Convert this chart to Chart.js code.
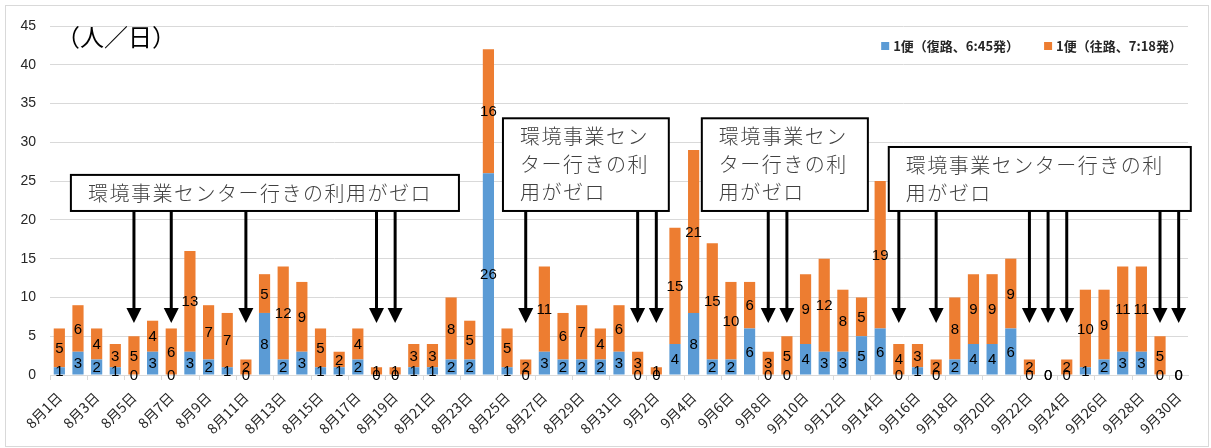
<!DOCTYPE html>
<html>
<head>
<meta charset="utf-8">
<script src="https://cdn.jsdelivr.net/npm/chart.js@4.4.1/dist/chart.umd.min.js"></script>
<style>
body { margin: 0; background: #fff; }
#wrap { position: relative; width: 1211px; height: 448px; }
#frame { position: absolute; left: 5px; top: 5px; width: 1204px; height: 442px; border: 1px solid #d9d9d9; box-sizing: border-box; }
canvas { position: absolute; left: 0; top: 0; }
</style>
</head>
<body>
<div id="wrap"><div id="frame"></div><canvas id="chart" width="1211" height="448"></canvas></div>
<script>
// categories
var days = [
  '8月1日','8月2日','8月3日','8月4日','8月5日','8月6日','8月7日','8月8日','8月9日','8月10日',
  '8月11日','8月12日','8月13日','8月14日','8月15日','8月16日','8月17日','8月18日','8月19日','8月20日',
  '8月21日','8月22日','8月23日','8月24日','8月25日','8月26日','8月27日','8月28日','8月29日','8月30日','8月31日',
  '9月1日','9月2日','9月3日','9月4日','9月5日','9月6日','9月7日','9月8日','9月9日','9月10日',
  '9月11日','9月12日','9月13日','9月14日','9月15日','9月16日','9月17日','9月18日','9月19日','9月20日',
  '9月21日','9月22日','9月23日','9月24日','9月25日','9月26日','9月27日','9月28日','9月29日','9月30日'
];

// 1便（復路、6:45発）
var fukuro = [1,3,2,1,0,3,0,3,2,1, 0,8,2,3,1,1,2,0,0,1, 1,2,2,26,1,0,3,2,2,2,3,
              0,0,4,8,2,2,6,0,0,4, 3,3,5,6,0,1,0,2,4,4, 6,0,0,0,1,2,3,3,0,0];
// 1便（往路、7:18発）
var oro = [5,6,4,3,5,4,6,13,7,7, 2,5,12,9,5,2,4,1,1,3, 3,8,5,16,5,2,11,6,7,4,6,
           3,1,15,21,15,10,6,3,5,9, 12,8,5,19,4,3,2,8,9,9, 9,2,0,2,10,9,11,11,5,0];

var seriesNames = ['1便（復路、6:45発）', '1便（往路、7:18発）'];
var seriesColors = ['#5B9BD5', '#ED7D31'];
var yTicks = [0, 45, 5];   // min, max, step
var unitText = '（人／日）';

// callouts: text lines + days they point at (box corners in axis units)
var notes = [
  { lines: ['環境事業センター行きの利用がゼロ'], x0: 0.62, x1: 21.42, y0: 25.8, y1: 21.15,
    days: ['8月5日','8月7日','8月11日','8月18日','8月19日'] },
  { lines: ['環境事業セン','ター行きの利','用がゼロ'], x0: 23.78, x1: 32.67, y0: 33.1, y1: 21.15,
    days: ['8月26日','9月1日','9月2日'] },
  { lines: ['環境事業セン','ター行きの利','用がゼロ'], x0: 34.44, x1: 43.34, y0: 33.1, y1: 21.15,
    days: ['9月8日','9月9日'] },
  { lines: ['環境事業センター行きの利','用がゼロ'], x0: 44.46, x1: 60.65, y0: 29.4, y1: 21.15,
    days: ['9月15日','9月17日','9月22日','9月23日','9月24日','9月29日','9月30日'] }
];
var arrowTip = 6.7, arrowHead = 8.64;

var JP = '"Noto Sans CJK JP", "Noto Sans", sans-serif';

var extras = {
  id: 'extras',
  afterDatasetsDraw: function(chart) {
    var ctx = chart.ctx, xs = chart.scales.x, ys = chart.scales.y, ca = chart.chartArea;
    ctx.save();

    // value labels in the middle of each segment
    ctx.fillStyle = '#000';
    ctx.font = '15px "Liberation Sans Narrow", "Liberation Sans", sans-serif';
    ctx.textAlign = 'center';
    ctx.textBaseline = 'middle';
    chart.data.datasets.forEach(function(ds, di) {
      chart.getDatasetMeta(di).data.forEach(function(bar, i) {
        ctx.fillText(String(ds.data[i]), bar.x, (bar.y + bar.base) / 2 + 1);
      });
    });

    // unit
    ctx.textAlign = 'left';
    ctx.font = '24px ' + JP;
    ctx.fillText(unitText, ca.left + 6, ca.top + 11);

    // legend, laid out from the right edge
    ctx.font = 'bold 13px ' + JP;
    var xr = ca.right - 6;
    for (var k = seriesNames.length - 1; k >= 0; k--) {
      var w = ctx.measureText(seriesNames[k]).width;
      var tx = xr - w;
      ctx.fillStyle = '#262626';
      ctx.fillText(seriesNames[k], tx, ca.top + 20);
      ctx.fillStyle = seriesColors[k];
      ctx.fillRect(tx - 12, ca.top + 16, 8, 8);
      xr = tx - 12 - 25;
    }

    // callout boxes and arrows
    notes.forEach(function(n) {
      var l = xs.getPixelForValue(n.x0), r = xs.getPixelForValue(n.x1);
      var t = ys.getPixelForValue(n.y0), b = ys.getPixelForValue(n.y1);
      ctx.fillStyle = '#fff';
      ctx.fillRect(l, t, r - l, b - t);
      ctx.lineWidth = 2;
      ctx.strokeStyle = '#000';
      ctx.strokeRect(l, t, r - l, b - t);

      ctx.fillStyle = '#404040';
      ctx.font = '300 20px ' + JP;
      ctx.letterSpacing = '1.5px';
      n.lines.forEach(function(s, k) {
        ctx.fillText(s, l + 17, t + 18 + k * 28);
      });
      ctx.letterSpacing = '0px';

      var yTip = ys.getPixelForValue(arrowTip), yHead = ys.getPixelForValue(arrowHead);
      n.days.forEach(function(d) {
        var x = xs.getPixelForValue(days.indexOf(d));
        ctx.lineWidth = 3;
        ctx.beginPath();
        ctx.moveTo(x, b);
        ctx.lineTo(x, yHead);
        ctx.stroke();
        ctx.fillStyle = '#000';
        ctx.beginPath();
        ctx.moveTo(x - 7.5, yHead);
        ctx.lineTo(x + 7.5, yHead);
        ctx.lineTo(x, yTip);
        ctx.closePath();
        ctx.fill();
      });
    });
    ctx.restore();
  }
};

new Chart(document.getElementById('chart'), {
  type: 'bar',
  data: {
    labels: days,
    datasets: [{
      label: seriesNames[0],
      data: fukuro,
      backgroundColor: seriesColors[0],
      barPercentage: 0.6,
      categoryPercentage: 1.0
    }, {
      label: seriesNames[1],
      data: oro,
      backgroundColor: seriesColors[1],
      barPercentage: 0.6,
      categoryPercentage: 1.0
    }]
  },
  options: {
    responsive: false,
    animation: false,
    layout: { padding: { left: 0, right: 23, top: 26, bottom: 0 } },
    plugins: {
      legend: { display: false },
      tooltip: { enabled: false }
    },
    scales: {
      x: {
        stacked: true,
        afterFit: function(s) { s.height = 73; },
        grid: {
          drawOnChartArea: false,
          tickLength: 5,
          color: function(c) { return c.index % 2 === 0 ? '#d9d9d9' : 'rgba(0,0,0,0)'; }
        },
        border: { color: '#d9d9d9' },
        ticks: {
          autoSkip: false,
          minRotation: 45,
          maxRotation: 45,
          padding: 9,
          color: '#262626',
          font: { size: 14, family: JP },
          callback: function(v, i) { return i % 2 === 0 ? days[i] : ''; }
        }
      },
      y: {
        stacked: true,
        min: yTicks[0],
        max: yTicks[1],
        afterFit: function(s) { s.width = 50; },
        grid: { color: '#d9d9d9', drawTicks: false },
        border: { display: false },
        ticks: {
          stepSize: yTicks[2],
          padding: 14,
          color: '#262626',
          font: { size: 14, family: '"Liberation Sans", sans-serif' }
        }
      }
    }
  },
  plugins: [extras]
});
</script>
</body>
</html>
